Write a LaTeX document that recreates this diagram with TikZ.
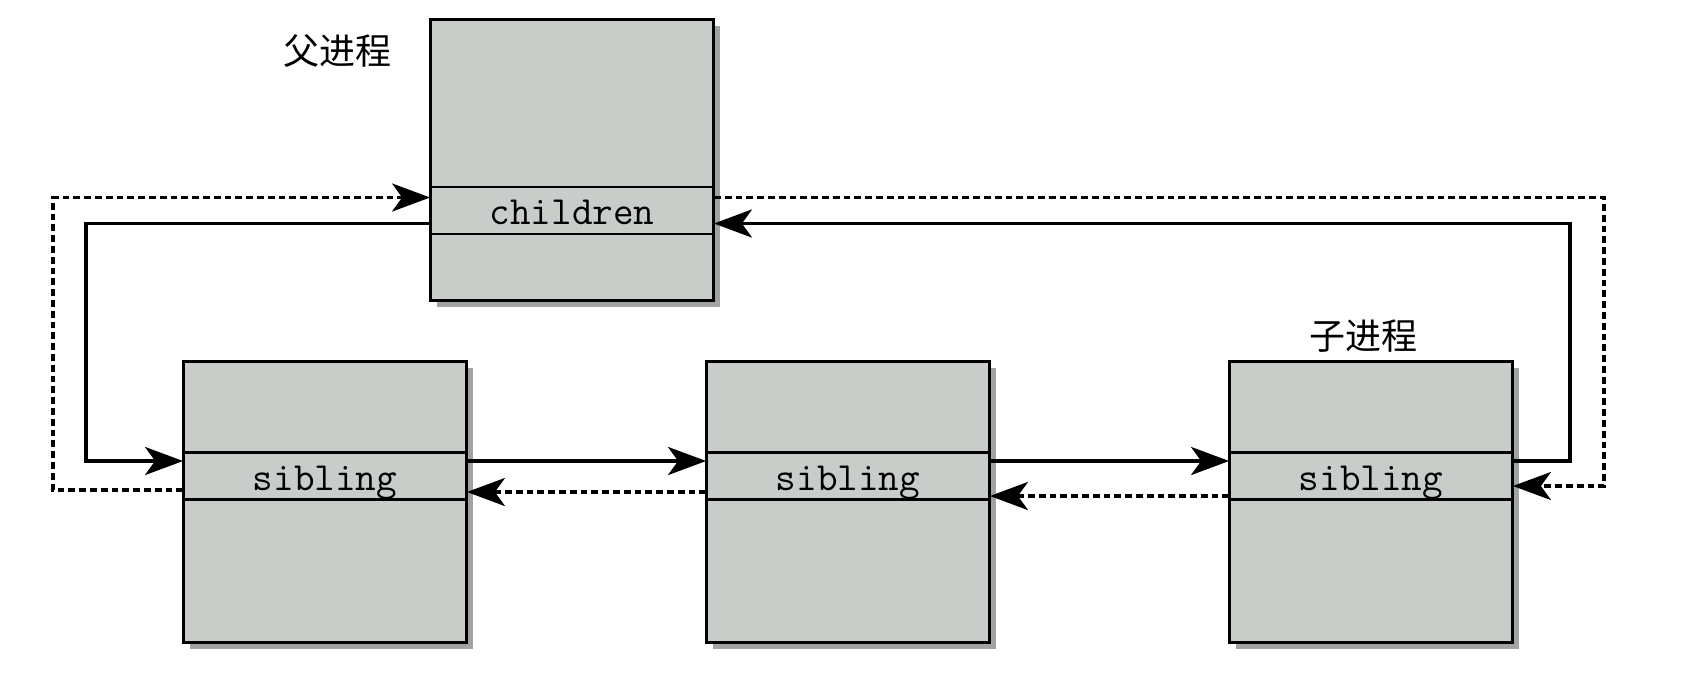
\documentclass[tikz,border=0pt]{standalone}
\usepackage{fontspec}
\newfontfamily\cjk{Noto Sans CJK SC}
\usepackage{xcolor}
\usepackage{tikz}
\usetikzlibrary{arrows.meta, positioning, shadows}

\definecolor{boxfill}{RGB}{201,205,202}
\definecolor{boxshadow}{RGB}{160,163,161}

\begin{document}
\begin{tikzpicture}[
                x=0.5pt, y=-0.5pt,
                node distance=118.4pt,
                proc/.style={rectangle, draw, line width=1.6pt, fill=boxfill, minimum width=141.5pt, minimum height=140.5pt,
                    drop shadow={shadow xshift=3pt, shadow yshift=-3pt, fill=boxshadow, opacity=1}},
                field/.style={rectangle, minimum width=141.5pt, minimum height=23.25pt, inner sep=0pt, text height=14pt, text depth=0pt, font=\fontsize{20}{24}\selectfont\ttfamily},
                rowline/.style={line width=1.3pt},
                tag/.style={font=\cjk\fontsize{18}{22}\selectfont},
                next/.style={line width=1.9pt, -{Stealth[length=19pt, width=14pt, inset=5pt]}},
                back/.style={next, dash pattern=on 3.4pt off 2pt}
            ]
                \useasboundingbox (0,0) rectangle (1696,676);

                % Parent process
                \node[proc] (parent) at (572,160) {};
                \node[field] (fc) at ([yshift=-25.25pt]parent.center) {children};
                \node[tag] (plabel) at (337,51) {父进程};

                % Child processes
                \node[proc] (sib1) at (325,502) {};
                \node[proc, right=of sib1] (sib2) {};
                \node[proc, right=of sib2] (sib3) {};
                \node[field] (fs1) at ([yshift=13pt]sib1.center) {sibling};
                \node[field] (fs2) at ([yshift=13pt]sib2.center) {sibling};
                \node[field] (fs3) at ([yshift=13pt]sib3.center) {sibling};
                \node[tag] (clabel) at (1363,336) {子进程};

                % Field borders
                \foreach \f in {fc, fs1, fs2, fs3}
                    \draw[rowline] (\f.north west) -- (\f.north east) (\f.south west) -- (\f.south east);

                % Edges
                \draw[next] ([yshift=-6.5pt]fc.west) -- ++(-172pt,0pt) |- ([yshift=7.5pt]fs1.west);
                \draw[back] ([yshift=-7pt]fs1.west) -- ++(-65pt,0pt) |- ([yshift=6.5pt]fc.west);
                \draw[next] ([yshift=7.5pt]fs1.east) -- ([yshift=7.5pt]fs2.west);
                \draw[back] ([yshift=-8pt]fs2.west) -- ([yshift=-8pt]fs1.east);
                \draw[next] ([yshift=7.5pt]fs2.east) -- ([yshift=7.5pt]fs3.west);
                \draw[back] ([yshift=-10pt]fs3.west) -- ([yshift=-10pt]fs2.east);
                \draw[next] ([yshift=7.5pt]fs3.east) -- ++(28.5pt,0pt) |- ([yshift=-6.5pt]fc.east);
                \draw[back] ([yshift=6.5pt]fc.east) -- ++(445pt,0pt) |- ([yshift=-5pt]fs3.east);
            \end{tikzpicture}
\end{document}
